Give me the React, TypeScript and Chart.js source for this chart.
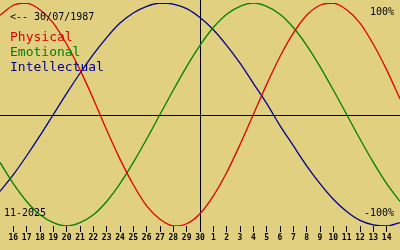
import React, { useEffect, useRef } from 'react';
import { Chart, registerables } from 'chart.js';

Chart.register(...registerables);

// Day labels along the bottom (16 Nov .. 14 Dec)
const dayLabels = [
  '16', '17', '18', '19', '20', '21', '22', '23', '24', '25', '26', '27', '28', '29', '30',
  '1', '2', '3', '4', '5', '6', '7', '8', '9', '10', '11', '12', '13', '14',
];
const todayIndex = 14;
const birthLabel = '<-- 30/07/1987';
const monthLabel = '11-2025';
const topLabel = '100%';
const bottomLabel = '-100%';
const seriesNames = ['Physical', 'Emotional', 'Intellectual'];

// values from day index -1 (left edge) to 29 (right edge)
const physical = [
  0.89, 0.98, 1.0, 0.94, 0.82, 0.63, 0.4, 0.14, -0.14, -0.4, -0.63, -0.82, -0.94, -1.0, -0.98, -0.89,
  -0.73, -0.52, -0.27, 0.0, 0.27, 0.52, 0.73, 0.89, 0.98, 1.0, 0.94, 0.82, 0.63, 0.4, 0.14,
];
const emotional = [
  -0.43, -0.62, -0.78, -0.9, -0.97, -1.0, -0.97, -0.9, -0.78, -0.62, -0.43, -0.22, 0.0, 0.22, 0.43, 0.62,
  0.78, 0.9, 0.97, 1.0, 0.97, 0.9, 0.78, 0.62, 0.43, 0.22, 0.0, -0.22, -0.43, -0.62, -0.78,
];
const intellectual = [
  -0.69, -0.54, -0.37, -0.19, 0.0, 0.19, 0.37, 0.54, 0.69, 0.82, 0.91, 0.97, 1.0, 0.99, 0.95, 0.87,
  0.76, 0.62, 0.46, 0.28, 0.1, -0.1, -0.28, -0.46, -0.62, -0.76, -0.87, -0.95, -0.99, -1.0, -0.97,
];
const seriesColors = ['#e00000', '#008000', '#000090'];

const BG = '#e0d080';
const MONO = '"DejaVu Sans Mono", monospace';

export default function App() {
  const ref = useRef<HTMLCanvasElement | null>(null);

  useEffect(() => {
    document.body.style.margin = '0';
    const canvas = ref.current;
    if (!canvas) return;

    const toPoints = (arr: number[]) => arr.map((v, i) => ({ x: i - 1, y: v }));

    const bgPlugin = {
      id: 'bg',
      beforeDraw(chart: any) {
        const { ctx, width, height } = chart;
        ctx.save();
        ctx.fillStyle = BG;
        ctx.fillRect(0, 0, width, height);
        ctx.restore();
      },
    };

    const crossPlugin = {
      id: 'cross',
      beforeDatasetsDraw(chart: any) {
        const { ctx, scales, chartArea, width } = chart;
        const y0 = Math.round(scales.y.getPixelForValue(0)) + 0.5;
        const xt = Math.round(scales.x.getPixelForValue(todayIndex)) + 0.5;
        ctx.save();
        ctx.strokeStyle = '#000';
        ctx.lineWidth = 1;
        ctx.beginPath();
        ctx.moveTo(0, y0);
        ctx.lineTo(width, y0);
        ctx.moveTo(xt, 0);
        ctx.lineTo(xt, chartArea.bottom);
        ctx.stroke();
        ctx.restore();
      },
    };

    const textPlugin = {
      id: 'texts',
      afterDraw(chart: any) {
        const { ctx } = chart;
        ctx.save();
        ctx.textBaseline = 'middle';
        ctx.fillStyle = '#000';
        ctx.font = `10px ${MONO}`;
        ctx.textAlign = 'left';
        ctx.fillText(birthLabel, 10, 17);
        ctx.fillText(monthLabel, 4, 213);
        ctx.textAlign = 'right';
        ctx.fillText(topLabel, 394, 12);
        ctx.fillText(bottomLabel, 394, 213);
        ctx.textAlign = 'left';
        ctx.font = `13px ${MONO}`;
        chart.data.datasets.forEach((ds: any, i: number) => {
          ctx.fillStyle = ds.borderColor;
          ctx.fillText(ds.label, 10, 38 + 15 * i);
        });
        ctx.restore();
      },
    };

    const chart = new Chart(canvas, {
      type: 'line',
      data: {
        datasets: [physical, emotional, intellectual].map((arr, i) => ({
          label: seriesNames[i],
          data: toPoints(arr),
          borderColor: seriesColors[i],
          borderWidth: 1.3,
          pointRadius: 0,
          tension: 0.3,
          fill: false,
        })),
      },
      options: {
        responsive: false,
        animation: false,
        devicePixelRatio: 1,
        layout: { padding: { top: 3, bottom: 6.4, left: 0, right: 0 } },
        plugins: { legend: { display: false }, tooltip: { enabled: false }, title: { display: false } },
        scales: {
          x: {
            type: 'linear',
            min: -1,
            max: 29,
            afterBuildTicks: (axis: any) => {
              axis.ticks = dayLabels.map((_, i) => ({ value: i }));
            },
            ticks: {
              autoSkip: false,
              maxRotation: 0,
              minRotation: 0,
              padding: 1,
              color: '#000',
              font: { family: MONO, size: 8, weight: 'bold' },
              callback: (v: any) => dayLabels[v as number] ?? '',
            },
            grid: { drawOnChartArea: false, drawTicks: true, tickLength: 6, color: '#000', lineWidth: 1 },
            border: { display: false },
          },
          y: { min: -1, max: 1, display: false },
        },
      },
      plugins: [bgPlugin, crossPlugin, textPlugin],
    } as any);

    return () => chart.destroy();
  }, []);

  return (
    <canvas
      ref={ref}
      width={400}
      height={250}
      style={{ position: 'absolute', left: 0, top: 0, display: 'block', width: 400, height: 250 }}
    />
  );
}
